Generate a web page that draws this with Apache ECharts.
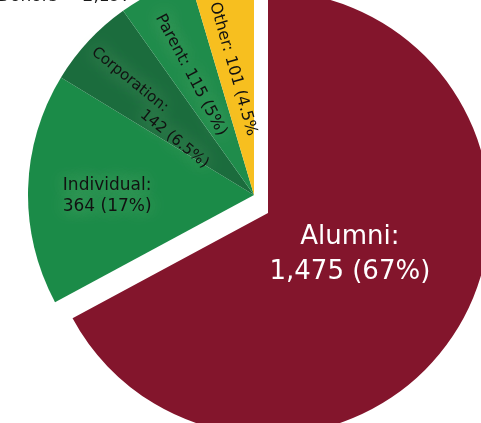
<!DOCTYPE html>
<html><head><meta charset="utf-8">
<script src="https://cdn.jsdelivr.net/npm/echarts@6/dist/echarts.min.js"></script>
<style>html,body{margin:0;padding:0;background:#fff;overflow:hidden}#c{width:481px;height:423px}</style>
</head><body><div id="c"></div>
<script>
// ---- data ----
const categories = ['Alumni', 'Individual', 'Corporation', 'Parent', 'Other'];
const values = [1475, 364, 142, 115, 101];
const pctLabels = ['67%', '17%', '6.5%', '5%', '4.5%'];
const titleText = 'Donors = 2,197';

// ---- style ----
const FONT = 'DejaVu Sans';
const colors = ['#83152C', '#1B8B48', '#1B6C3D', '#1F8C4B', '#F7BF1F'];
const R_GROUP = 226;
const R_ALUMNI = 222;
const groupCenter = [254, 195];
const alumniCenter = [268, 213];
const glow = { textShadowColor: 'rgba(150,205,150,0.9)', textShadowBlur: 18 };
const labelCfg = [
  { r: 0.415, shift: -3.6, rotate: 0, color: '#ffffff', fontSize: 26, lineHeight: 35, multi: true, glow: false, close: ')' },
  { r: 0.65, shift: -2, rotate: 0, color: '#111', fontSize: 17, lineHeight: 21, multi: true, glow: true, close: ')' },
  { r: 0.60, shift: -3, rotate: -39, color: '#111', fontSize: 15, lineHeight: 18, multi: true, indent: 77, glow: true, close: ')' },
  { r: 0.60, shift: -1.8, rotate: -62, color: '#111', fontSize: 16, lineHeight: 18, multi: false, glow: true, close: ')' },
  { r: 0.565, shift: -1.2, rotate: -74, color: '#111', fontSize: 16, lineHeight: 18, multi: false, glow: false, close: '' }
];

const total = values.reduce((a, b) => a + b, 0);
const midAngles = [];
{ let acc = 0; values.forEach(v => { midAngles.push((acc + v / 2) / total * 360); acc += v; }); }

function labelText(i) {
  const num = values[i].toLocaleString('en-US') + ' (' + pctLabels[i] + labelCfg[i].close;
  const head = categories[i] + ':';
  const c = labelCfg[i];
  if (c.indent) return '{a|' + head + '}\n{b|' + num + '}';
  return c.multi ? head + '\n' + num : head + ' ' + num;
}

function buildData(showAlumni) {
  return categories.map((name, i) => {
    const visible = (i === 0) === showAlumni;
    const c = labelCfg[i];
    const lab = Object.assign({
      show: visible,
      position: 'inside',
      color: c.color,
      fontFamily: FONT,
      fontSize: c.fontSize,
      lineHeight: c.lineHeight,
      align: 'center',
      formatter: () => labelText(i)
    }, c.glow ? glow : {});
    if (c.indent) {
      lab.rich = {
        a: Object.assign({ align: 'left', fontFamily: FONT, fontSize: c.fontSize, lineHeight: c.lineHeight, color: c.color }, glow),
        b: Object.assign({ align: 'left', fontFamily: FONT, fontSize: c.fontSize, lineHeight: c.lineHeight, color: c.color, padding: [0, 0, 0, c.indent] }, glow)
      };
    }
    return {
      name, value: values[i],
      itemStyle: { color: visible ? colors[i] : 'rgba(0,0,0,0)' },
      label: lab
    };
  });
}

function layoutFor(center, R) {
  return function (p) {
    const i = p.dataIndex;
    const c = labelCfg[i];
    const th = (midAngles[i] + c.shift) * Math.PI / 180;
    return {
      x: center[0] + c.r * R * Math.sin(th),
      y: center[1] - c.r * R * Math.cos(th),
      rotate: c.rotate,
      align: 'center',
      verticalAlign: 'middle'
    };
  };
}

const chart = echarts.init(document.getElementById('c'), null, { renderer: 'canvas' });
chart.setOption({
  animation: false,
  title: {
    text: titleText, left: -3, top: -12, padding: 0,
    textStyle: { fontFamily: FONT, fontSize: 17, fontWeight: 'normal', color: '#1a1a1a' }
  },
  series: [
    {
      type: 'pie', center: groupCenter, radius: R_GROUP, startAngle: 90, clockwise: true,
      silent: true, labelLine: { show: false }, avoidLabelOverlap: false,
      itemStyle: { borderWidth: 0 },
      data: buildData(false),
      labelLayout: layoutFor(groupCenter, R_GROUP)
    },
    {
      type: 'pie', center: alumniCenter, radius: R_ALUMNI, startAngle: 90, clockwise: true,
      silent: true, labelLine: { show: false }, avoidLabelOverlap: false,
      itemStyle: { borderWidth: 0 },
      data: buildData(true),
      labelLayout: layoutFor(alumniCenter, R_ALUMNI)
    }
  ]
});
</script></body></html>
